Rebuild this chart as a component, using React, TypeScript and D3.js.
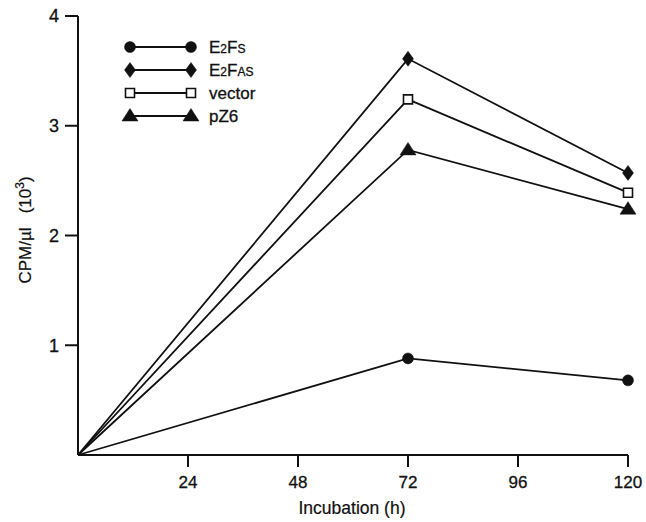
import React, { useEffect, useRef } from "react";
import { select, scaleLinear, line } from "d3";

// values (CPM/µl, x 10^3)
const hours = [0, 72, 120];
const e2fs = [0, 0.88, 0.68];
const e2fas = [0, 3.61, 2.57];
const vectorVals = [0, 3.24, 2.39];
const pz6 = [0, 2.78, 2.24];

const xTicks = [24, 48, 72, 96, 120];
const yTicks = [1, 2, 3, 4];

const seriesNames = ["E2FS", "E2FAS", "vector", "pZ6"];
const seriesValues = [e2fs, e2fas, vectorVals, pz6];
const seriesShapes = ["circle", "diamond", "square", "triangle"];

const FONT = "'Liberation Sans', Arial, Helvetica, sans-serif";

function markerPath(shape: string) {
  switch (shape) {
    case "circle":
      return "M-5.5,0A5.5,5.5 0 1,0 5.5,0A5.5,5.5 0 1,0 -5.5,0Z";
    case "diamond":
      return "M0,-7.5L5.5,0L0,7.5L-5.5,0Z";
    case "square":
      return "M-4.5,-4.5H4.5V4.5H-4.5Z";
    default:
      return "M0,-7.5L8,5L-8,5Z";
  }
}

function Chart() {
  const svgRef = useRef<SVGSVGElement>(null);

  useEffect(() => {
    const svg = select(svgRef.current);
    svg.selectAll("*").remove();

    const x = scaleLinear().domain([0, 120]).range([78, 628]);
    const y = scaleLinear().domain([0, 4]).range([455, 16]);

    const g = svg.append("g");

    // axes
    g.append("line")
      .attr("x1", x(0)).attr("x2", x(120))
      .attr("y1", y(0)).attr("y2", y(0))
      .attr("stroke", "#111").attr("stroke-width", 2);
    g.append("line")
      .attr("x1", x(0)).attr("x2", x(0))
      .attr("y1", y(0)).attr("y2", y(4))
      .attr("stroke", "#111").attr("stroke-width", 2);

    const xt = g.selectAll(".xt").data(xTicks).join("g").attr("class", "xt")
      .attr("transform", (d) => `translate(${x(d)},${y(0)})`);
    xt.append("line").attr("y2", 12).attr("stroke", "#111").attr("stroke-width", 2);
    xt.append("text")
      .attr("y", 33).attr("text-anchor", "middle")
      .attr("font-family", FONT).attr("font-size", 17).attr("fill", "#111")
      .attr("stroke", "#111").attr("stroke-width", 0.3)
      .text((d) => d);

    const yt = g.selectAll(".yt").data(yTicks).join("g").attr("class", "yt")
      .attr("transform", (d) => `translate(${x(0)},${y(d)})`);
    yt.append("line").attr("x2", -13).attr("stroke", "#111").attr("stroke-width", 2);
    yt.append("text")
      .attr("x", -19).attr("dy", "0.36em").attr("text-anchor", "end")
      .attr("font-family", FONT).attr("font-size", 18).attr("fill", "#111")
      .attr("stroke", "#111").attr("stroke-width", 0.3)
      .text((d) => d);

    // axis titles
    g.append("text")
      .attr("x", 352).attr("y", 514).attr("text-anchor", "middle")
      .attr("font-family", FONT).attr("font-size", 17.5).attr("fill", "#111")
      .attr("stroke", "#111").attr("stroke-width", 0.2)
      .text("Incubation (h)");
    const yl = g.append("text")
      .attr("transform", `translate(31,230) rotate(-90)`)
      .attr("text-anchor", "middle")
      .attr("font-family", FONT).attr("font-size", 17).attr("fill", "#111")
      .attr("stroke", "#111").attr("stroke-width", 0.2)
      .attr("xml:space", "preserve");
    yl.append("tspan").text("CPM/µl   (10");
    yl.append("tspan").attr("font-size", 12).attr("dy", -7).text("3");
    yl.append("tspan").attr("dy", 7).text(")");

    // series
    const lineGen = line<number>()
      .x((_, i) => x(hours[i]))
      .y((d) => y(d));

    seriesValues.forEach((vals, si) => {
      g.append("path")
        .attr("d", lineGen(vals))
        .attr("fill", "none").attr("stroke", "#111").attr("stroke-width", 1.8);
      g.selectAll(`.m${si}`)
        .data(vals.slice(1))
        .join("path")
        .attr("class", `m${si}`)
        .attr("transform", (d, i) => `translate(${x(hours[i + 1])},${y(d)})`)
        .attr("d", markerPath(seriesShapes[si]))
        .attr("fill", seriesShapes[si] === "square" ? "#fff" : "#111")
        .attr("stroke", "#111")
        .attr("stroke-width", seriesShapes[si] === "square" ? 1.6 : 0.5);
    });

    // legend
    const leg = g.selectAll(".leg").data(seriesNames).join("g").attr("class", "leg")
      .attr("transform", (_, i) => `translate(0,${47 + i * 23})`);
    leg.append("line").attr("x1", 130).attr("x2", 191)
      .attr("stroke", "#111").attr("stroke-width", 1.8);
    [130, 191].forEach((lx) => {
      leg.append("path")
        .attr("transform", `translate(${lx},0)`)
        .attr("d", (_, i) => markerPath(seriesShapes[i]))
        .attr("fill", (_, i) => (seriesShapes[i] === "square" ? "#fff" : "#111"))
        .attr("stroke", "#111")
        .attr("stroke-width", (_, i) => (seriesShapes[i] === "square" ? 1.6 : 0.5));
    });
    const lt = leg.append("text")
      .attr("x", 209).attr("dy", "0.36em")
      .attr("font-family", FONT).attr("font-size", 17).attr("fill", "#111")
      .attr("stroke", "#111").attr("stroke-width", 0.3);
    lt.each(function (d) {
      const t = select(this);
      if (d === "E2FS" || d === "E2FAS") {
        t.append("tspan").text("E");
        t.append("tspan").attr("font-size", 12).text("2");
        t.append("tspan").text("F");
        t.append("tspan").attr("font-size", 12).text(d === "E2FS" ? "S" : "AS");
      } else {
        t.text(d);
      }
    });
  }, []);

  return <svg ref={svgRef} width={646} height={522} style={{ display: "block" }} />;
}

export default function App() {
  return (
    <div style={{ position: "absolute", left: 0, top: 0, background: "#fff" }}>
      <Chart />
    </div>
  );
}
